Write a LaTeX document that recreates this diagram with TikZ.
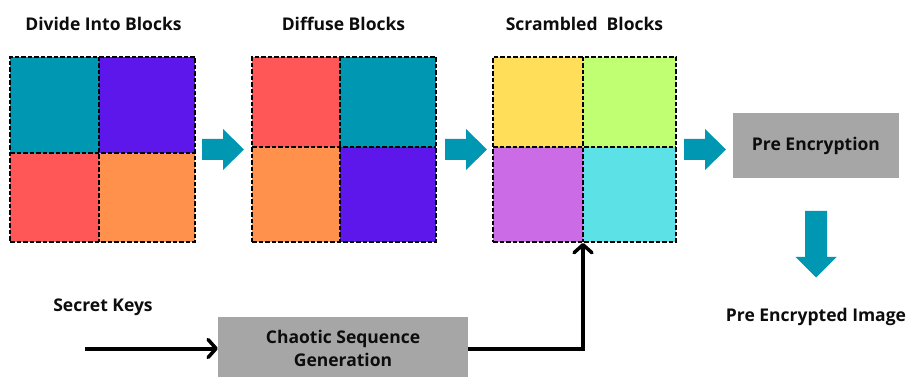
\documentclass[tikz,border=0pt]{standalone}
\usepackage{fontspec}
\setmainfont{Open Sans}
\usetikzlibrary{arrows.meta}
\definecolor{cteal}{HTML}{0097B2}
\definecolor{cpurple}{HTML}{5E17EB}
\definecolor{cred}{HTML}{FF5757}
\definecolor{corange}{HTML}{FF914D}
\definecolor{cyellow}{HTML}{FFDE59}
\definecolor{clime}{HTML}{C1FF72}
\definecolor{cviolet}{HTML}{CB6CE6}
\definecolor{ccyan}{HTML}{5CE1E6}
\definecolor{cgray}{HTML}{A6A6A6}
\begin{document}
\begin{tikzpicture}[x=1pt,y=-1pt,
  lbl/.style={font=\fontsize{17.5}{23}\selectfont\bfseries, text=black!95, inner sep=0pt, align=center},
  gridbox/.style={draw=black, dash pattern=on 4.5pt off 2pt, line width=1.5pt, inner sep=0pt, minimum width=185pt, minimum height=185pt},
  divline/.style={draw=black, dash pattern=on 4.5pt off 2pt, line width=1.5pt},
  graybox/.style={fill=cgray, inner sep=0pt},
  conn/.style={line width=4pt, -{Straight Barb[length=8pt,width=18pt,line width=3.5pt,round]}},
  blockarrow/.style={fill=cteal}]
\useasboundingbox (0,0) rectangle (906,377);
\clip (0,0) rectangle (906,377);
\fill[white] (0,0) rectangle (906,377);

% titles
\node[lbl] (t1) at (103.5,24) {Divide Into Blocks};
\node[lbl] (t2) at (343.5,24) {Diffuse Blocks};
\node[lbl] (t3) at (584.5,24) {Scrambled\ \ Blocks};

% grid 1
\fill[cteal]   (10,57) rectangle (99,153);
\fill[cpurple] (99,57) rectangle (195,153);
\fill[cred]    (10,153) rectangle (99,242);
\fill[corange] (99,153) rectangle (195,242);
\node[gridbox] (g1) at (102.5,149.5) {};
\draw[divline] (99,57) -- (99,242) (10,153) -- (195,153);

% grid 2
\fill[cred]    (252,57) rectangle (340,147);
\fill[cteal]   (340,57) rectangle (436,147);
\fill[corange] (252,147) rectangle (340,242);
\fill[cpurple] (340,147) rectangle (436,242);
\node[gridbox, minimum width=184pt] (g2) at (344,149.5) {};
\draw[divline] (340,57) -- (340,242) (252,147) -- (436,147);

% grid 3
\fill[cyellow] (493,57) rectangle (583,147);
\fill[clime]   (583,57) rectangle (676,147);
\fill[cviolet] (493,147) rectangle (583,242);
\fill[ccyan]   (583,147) rectangle (676,242);
\node[gridbox, minimum width=183pt] (g3) at (584.5,149.5) {};
\draw[divline] (583,57) -- (583,242) (493,147) -- (676,147);
\coordinate (g3b) at (583,243);

% block arrows
\fill[blockarrow] (202,139) -- (223,139) -- (223,129) -- (244,149.5) -- (223,170) -- (223,160) -- (202,160) -- cycle;
\fill[blockarrow] (445,139) -- (466,139) -- (466,129) -- (487,149.5) -- (466,170) -- (466,160) -- (445,160) -- cycle;
\fill[blockarrow] (684,139) -- (705,139) -- (705,129) -- (726,149.5) -- (705,170) -- (705,160) -- (684,160) -- cycle;

% pre encryption
\node[graybox, minimum width=166pt, minimum height=65pt] (pe) at (816,145.5) {};
\node[lbl] (pet) at (pe.center) {Pre Encryption};
\fill[blockarrow] (805,211) -- (827,211) -- (827,257) -- (836.5,257) -- (816,277.5) -- (795.5,257) -- (805,257) -- cycle;
\node[lbl] (pei) at (816,317) {Pre Encrypted Image};

% secret keys and chaotic sequence
\node[lbl] (sk) at (103,307) {Secret Keys};
\node[graybox, minimum width=250pt, minimum height=63pt] (cs) at (343,348.5) {};
\node[lbl] (cst) at (cs.center) {Chaotic Sequence\\Generation};
\coordinate (skstart) at (85,348.5);
\draw[conn] (skstart) -- (cs.west);
\draw[conn] (cs.east) -| (g3b);
\end{tikzpicture}
\end{document}
